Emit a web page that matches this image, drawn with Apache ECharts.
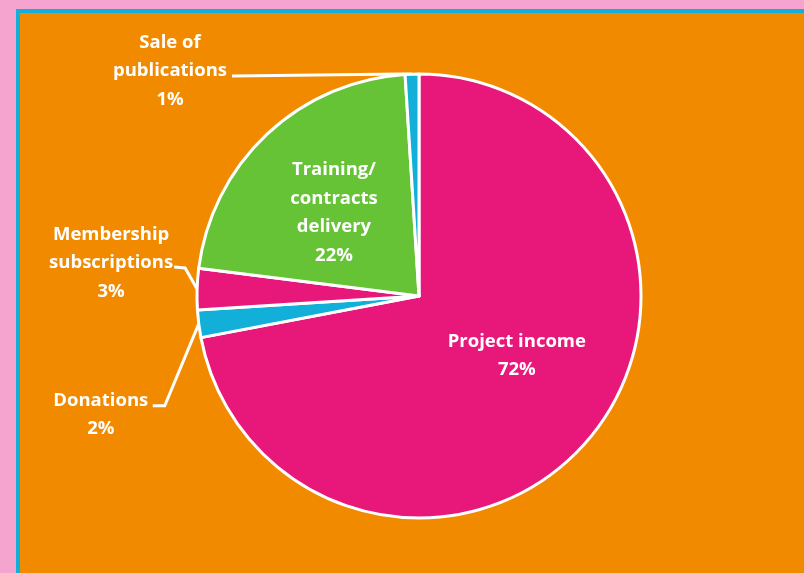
<!DOCTYPE html>
<html>
<head>
<meta charset="utf-8">
<script src="https://cdn.jsdelivr.net/npm/echarts@6/dist/echarts.min.js"></script>
<style>
  html, body { margin: 0; padding: 0; background: #F5A3CF; }
  #chart { width: 804px; height: 573px; }
</style>
</head>
<body>
<div id="chart"></div>
<script>
// income sources, clockwise from 12 o'clock
const names = ['Project income', 'Donations', 'Membership\nsubscriptions', 'Training/\ncontracts\ndelivery', 'Sale of\npublications']
const values = [72, 2, 3, 22, 1]
const colors = ['#E8177A', '#12B0D8', '#E8177A', '#66C335', '#12B0D8']

// label placement, relative to the point where the leader leaves the pie
const outsideLabels = {
  4: { label: [-242, -3], elbow: [-10, 0], end: [-180, 2] },
  2: { label: [-86, -26], elbow: [-12, -21], end: [-23, -22] },
  1: { label: [-98, 91], elbow: [-34, 82], end: [-46, 82] }
}
const insideShift = {
  0: [10, -13],
  3: [-7, 0]
}

const chart = echarts.init(document.getElementById('chart'))

const data = names.map((n, i) => {
  const inside = insideShift[i] !== undefined
  return {
    name: n,
    value: values[i],
    itemStyle: { color: colors[i] },
    label: { position: inside ? 'inside' : 'outside' },
    labelLine: { show: !inside }
  }
})

const option = {
  backgroundColor: '#F5A3CF',
  animation: false,
  graphic: [{
    type: 'rect',
    z: -10,
    shape: { x: 18, y: 11, width: 900, height: 700 },
    style: { fill: '#F28A00', stroke: '#12B0D8', lineWidth: 4 }
  }],
  series: [{
    type: 'pie',
    center: [419, 296],
    radius: 222,
    startAngle: 90,
    clockwise: true,
    itemStyle: { borderColor: '#fff', borderWidth: 3 },
    label: {
      color: '#fff',
      fontFamily: 'Open Sans',
      fontWeight: 'bold',
      fontSize: 18.5,
      lineHeight: 28.5,
      align: 'center',
      formatter: p => p.name + '\n' + p.value + '%'
    },
    labelLine: {
      length: 5,
      length2: 10,
      lineStyle: { color: '#fff', width: 3 }
    },
    labelLayout: function (params) {
      const i = params.dataIndex
      if (insideShift[i]) {
        return { dx: insideShift[i][0], dy: insideShift[i][1] }
      }
      const cfg = outsideLabels[i]
      const p0 = params.labelLinePoints[0]
      return {
        x: p0[0] + cfg.label[0],
        y: p0[1] + cfg.label[1],
        align: 'center',
        verticalAlign: 'middle',
        labelLinePoints: [
          [p0[0], p0[1]],
          [p0[0] + cfg.elbow[0], p0[1] + cfg.elbow[1]],
          [p0[0] + cfg.end[0], p0[1] + cfg.end[1]]
        ]
      }
    },
    data
  }]
}

chart.setOption(option)
</script>
</body>
</html>
